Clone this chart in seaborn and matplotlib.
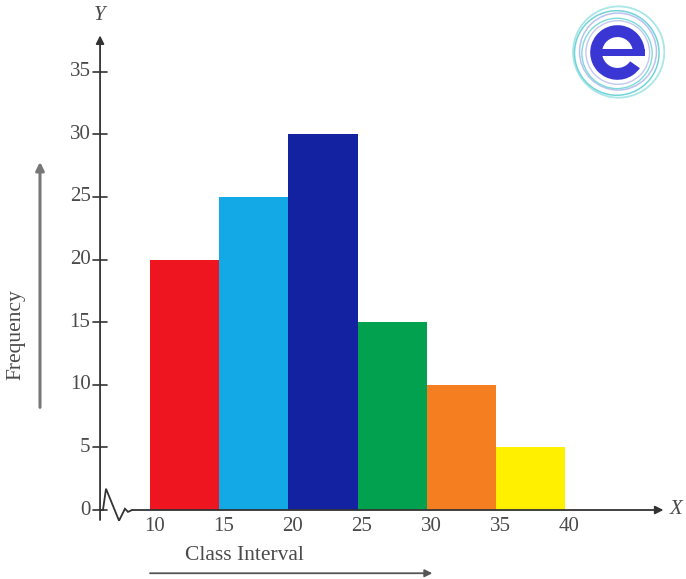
import matplotlib
matplotlib.use("Agg")
import matplotlib.pyplot as plt
from matplotlib.patches import Circle, Wedge, Rectangle
import seaborn as sns
import pandas as pd

# Class intervals and their frequencies
bin_edges = [10, 15, 20, 25, 30, 35, 40]
intervals = ["10-15", "15-20", "20-25", "25-30", "30-35", "35-40"]
frequency = [20, 25, 30, 15, 10, 5]
bar_colors = ["#ee1520", "#12a9e6", "#1322a0", "#02a150", "#f57f20", "#fff000"]
y_ticks = [0, 5, 10, 15, 20, 25, 30, 35]
x_ticks = [10, 15, 20, 25, 30, 35, 40]

sns.set_theme(style="white")
plt.rcParams["font.family"] = ["Liberation Serif", "DejaVu Serif"]

fig = plt.figure(figsize=(6.86, 5.79), dpi=100)
ax = fig.add_axes([0, 0, 1, 1])

mids = [(bin_edges[i] + bin_edges[i + 1]) / 2 for i in range(len(frequency))]
df = pd.DataFrame({"mid": mids, "freq": frequency, "interval": intervals})
sns.histplot(data=df, x="mid", weights="freq", hue="interval", bins=bin_edges,
             palette=bar_colors, hue_order=intervals, multiple="layer",
             alpha=1, linewidth=0, legend=False, ax=ax)

ax.set_xlim(-0.84, 48.73)
ax.set_ylim(-5.51, 40.73)
ax.set_axis_off()

axis_col = "#333333"
text_col = "#4a4a4a"
y_axis_x = 6.39

# y axis with arrow
ax.annotate("", xy=(y_axis_x, 37.9), xytext=(y_axis_x, -0.8),
            arrowprops=dict(arrowstyle="-|>", color=axis_col, lw=1.3,
                            mutation_scale=12, shrinkA=0, shrinkB=0))
# broken-axis zigzag then x axis with arrow
kx = [y_axis_x, 6.60, 6.82, 7.76, 8.19, 8.41, 8.70]
ky = [0, 0, 1.7, -0.85, 0.1, -0.15, 0]
ax.plot(kx, ky, color=axis_col, lw=1.3, solid_joinstyle="miter")
ax.annotate("", xy=(47.1, 0), xytext=(8.7, 0),
            arrowprops=dict(arrowstyle="-|>", color=axis_col, lw=1.3,
                            mutation_scale=12, shrinkA=0, shrinkB=0))

# y ticks and labels
for t in y_ticks:
    ax.plot([y_axis_x - 0.5, y_axis_x + 0.5], [t, t], color=axis_col, lw=1.2)
    ax.text(5.7, t, str(t), ha="right", va="center", fontsize=15, color=text_col)

# x tick labels
for t in x_ticks:
    ax.text(t + 0.3, -1.35, str(t), ha="center", va="center", fontsize=15,
            color=text_col)

ax.text(48.0, 0.05, "X", ha="center", va="center", fontsize=15,
        style="italic", color=text_col)
ax.text(y_axis_x, 39.5, "Y", ha="center", va="center", fontsize=15,
        style="italic", color=text_col)

# axis titles with direction arrows
ax.text(16.8, -3.6, "Class Interval", ha="center", va="center",
        fontsize=15.5, color=text_col)
ax.annotate("", xy=(30.4, -5.05), xytext=(10.0, -5.05),
            arrowprops=dict(arrowstyle="-|>", color="#555555", lw=1.3,
                            mutation_scale=11, shrinkA=0, shrinkB=0))
ax.text(0.32, 14.0, "Frequency", ha="center", va="center", rotation=90,
        fontsize=15.5, color=text_col)
ax.annotate("", xy=(2.05, 27.8), xytext=(2.05, 8.2),
            arrowprops=dict(arrowstyle="-|>", color="#777777", lw=2.2,
                            mutation_scale=12, shrinkA=0, shrinkB=0))

# brand emblem
lax = fig.add_axes([570 / 686, 1 - 100 / 579, 95 / 686, 95 / 579])
lax.set_xlim(-2, 2)
lax.set_ylim(-2, 2)
lax.set_aspect("equal")
lax.set_axis_off()
ring_specs = [(1.92, (0.05, 0.02), "#a8e6e8", 1.3), (1.78, (-0.03, -0.02), "#72d4d8", 1.1),
              (1.62, (0.02, 0.04), "#b9c2ee", 1.1), (1.48, (-0.02, -0.04), "#7fdadb", 1.0),
              (1.34, (0.01, 0.0), "#c4c8f0", 1.0)]
for r, (dx, dy), c, lw in ring_specs:
    lax.add_patch(Circle((dx, dy), r, fill=False, ec=c, lw=lw))
blue = "#3a36d4"
# letter "e": open ring plus crossbar
lax.add_patch(Wedge((0, 0), 1.15, 0, 325, width=0.5, fc=blue, ec="none"))
lax.add_patch(Rectangle((-0.7, -0.14), 1.85, 0.3, fc=blue, ec="none"))

fig.savefig("out.png", dpi=100)
